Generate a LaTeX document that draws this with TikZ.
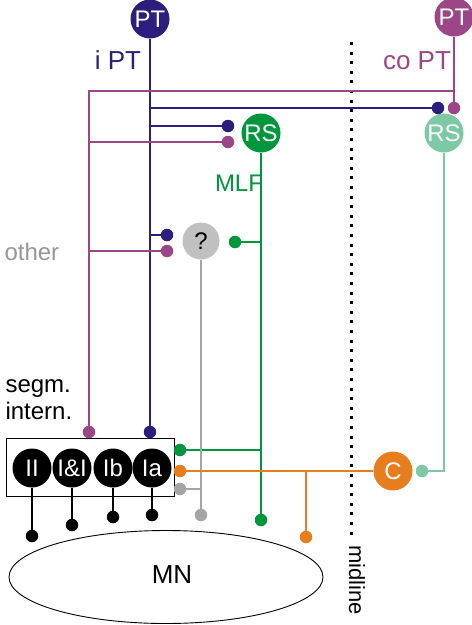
\documentclass[tikz,border=0pt]{standalone}
\usepackage{fontspec}
\setmainfont{Liberation Sans}
\usetikzlibrary{shapes.geometric}
\definecolor{navyc}{RGB}{45,30,125}
\definecolor{purpc}{RGB}{155,70,135}
\definecolor{greenc}{RGB}{0,150,60}
\definecolor{lgreenc}{RGB}{125,200,165}
\definecolor{orangec}{RGB}{232,125,30}
\definecolor{grayc}{RGB}{192,192,192}
\definecolor{grayl}{RGB}{165,165,165}
\definecolor{graytext}{RGB}{150,150,150}
\begin{document}
\begin{tikzpicture}[x=1pt,y=-1pt,
  bigc/.style={circle, minimum size=39pt, inner sep=0pt, text=white, font=\fontsize{24}{24}\selectfont},
  segc/.style={circle, minimum size=39pt, inner sep=0pt, fill=black, text=white, font=\fontsize{24}{24}\selectfont},
  dotc/.style={circle, minimum size=12.5pt, inner sep=0pt},
  wire/.style={line width=2pt},
  lab/.style={font=\fontsize{24}{24}\selectfont, anchor=base},
  ptlab/.style={font=\fontsize{26}{26}\selectfont, anchor=base},
]
\useasboundingbox (0,0) rectangle (472,625);

% midline
\coordinate (mtop) at (351,42);
\coordinate (mbot) at (351,540);
\draw[line width=3pt, dash pattern=on 3pt off 6.6pt] (mtop) -- (mbot);
\node[font=\fontsize{22}{22}\selectfont, rotate=-90] (midl) at (357,580) {midline};

% main neurons
\node[bigc, fill=navyc] (ipt) at (150,19) {PT};
\node[bigc, fill=purpc] (cpt) at (454,17) {PT};
\node[ptlab, text=navyc] (iptl) at (118,69) {i PT};
\node[ptlab, text=purpc] (cptl) at (417,69) {co PT};
\node[bigc, fill=greenc] (rs) at (261,133) {RS};
\node[bigc, fill=lgreenc] (rs2) at (444,133) {RS};
\node[lab, text=greenc] (mlf) at (239,191) {MLF};
\node[bigc, fill=grayc, text=black, minimum size=37pt] (q) at (201,241) {?};
\node[lab, text=graytext, anchor=base west] (oth) at (1,260) {other};
\node[lab, anchor=base west] (seg1) at (2,392) {segm.};
\node[lab, anchor=base west] (seg2) at (2,419) {intern.};
\node[bigc, fill=orangec] (c) at (393,471) {C};

% box with segmental interneurons
\node[draw=black, line width=1pt, minimum width=168pt, minimum height=58pt, inner sep=0pt] (box) at (90,467) {};
\node[segc] (II) at (32,468) {II};
\node[segc] (II2) at (72,468) {I\&I};
\node[segc] (Ib) at (113,468) {Ib};
\node[segc] (Ia) at (152,468) {Ia};

% MN
\node[draw=black, line width=0.9pt, ellipse, minimum width=314pt, minimum height=93pt, inner sep=0pt] (mn) at (166,577) {};
\node[font=\fontsize{26}{26}\selectfont, anchor=base] (mnl) at (172,583) {MN};

% dots
\node[dotc, fill=navyc] (dn0) at (150,432) {};
\node[dotc, fill=navyc] (dn1) at (438,108) {};
\node[dotc, fill=navyc] (dn2) at (228,126) {};
\node[dotc, fill=navyc] (dn3) at (167,235) {};
\node[dotc, fill=purpc] (dp0) at (89,432) {};
\node[dotc, fill=purpc] (dp1) at (454,108) {};
\node[dotc, fill=purpc] (dp2) at (228,142) {};
\node[dotc, fill=purpc] (dp3) at (167,251) {};
\node[dotc, fill=greenc] (dg0) at (261,520) {};
\node[dotc, fill=greenc] (dg1) at (235,242) {};
\node[dotc, fill=greenc] (dg2) at (180,450) {};
\node[dotc, fill=orangec] (do1) at (180,471) {};
\node[dotc, fill=orangec] (do2) at (306,537) {};
\node[dotc, fill=grayl] (dq0) at (201,515) {};
\node[dotc, fill=grayl] (dq1) at (180,489) {};
\node[dotc, fill=lgreenc] (dl) at (422,471) {};
\node[dotc, fill=black] (dII) at (32,536) {};
\node[dotc, fill=black] (dII2) at (72,525) {};
\node[dotc, fill=black] (dIb) at (113,517) {};
\node[dotc, fill=black] (dIa) at (152,515) {};

% coordinates for purple trunk
\coordinate (pr) at (454,91);
\coordinate (pl) at (89,91);

% navy (ipsilateral PT)
\draw[wire, navyc] (ipt) -- (dn0);
\draw[wire, navyc] (ipt.south |- dn1) -- (dn1);
\draw[wire, navyc] (ipt.south |- dn2) -- (dn2);
\draw[wire, navyc] (ipt.south |- dn3) -- (dn3);

% purple (contralateral PT)
\draw[wire, purpc] (cpt) -- (dp1);
\draw[wire, purpc] (pr) -- (pl) -- (dp0);
\draw[wire, purpc] (pl |- dp2) -- (dp2);
\draw[wire, purpc] (pl |- dp3) -- (dp3);

% green (RS / MLF)
\draw[wire, greenc] (rs) -- (dg0);
\draw[wire, greenc] (rs.south |- dg1) -- (dg1);
\draw[wire, greenc] (rs.south |- dg2) -- (dg2);

% gray (other)
\draw[wire, grayl] (q) -- (dq0);
\draw[wire, grayl] (q.south |- dq1) -- (dq1);

% orange (commissural)
\draw[wire, orangec] (c) -- (do1);
\draw[wire, orangec] (do2 |- c) -- (do2);

% light green (contralateral RS)
\draw[wire, lgreenc] (rs2) |- (dl);

% segmental interneurons to MN
\draw[wire, black] (II) -- (dII);
\draw[wire, black] (II2) -- (dII2);
\draw[wire, black] (Ib) -- (dIb);
\draw[wire, black] (Ia) -- (dIa);
\end{tikzpicture}
\end{document}
